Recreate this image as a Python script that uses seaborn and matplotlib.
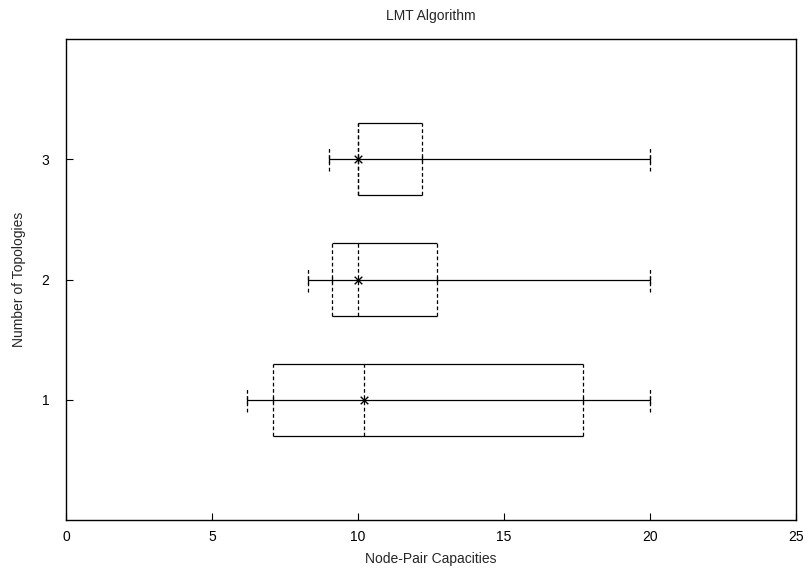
import matplotlib
matplotlib.use('Agg')
import matplotlib.pyplot as plt
import seaborn as sns
import pandas as pd

sns.set_style('white')
plt.rcParams['font.family'] = ['Liberation Sans', 'DejaVu Sans']

# summary values (one entry per topology count)
topology = [1, 2, 3]
whisker_lo = [6.2, 8.3, 9.0]
box_lo = [7.1, 9.1, 10.0]
median = [10.2, 10.0, 10.0]
box_hi = [17.7, 12.7, 12.2]
whisker_hi = [20.0, 20.0, 20.0]

df = pd.DataFrame({'topology': topology, 'wlo': whisker_lo, 'blo': box_lo,
                   'med': median, 'bhi': box_hi, 'whi': whisker_hi})

half_box = 0.3
half_cap = 0.1
lw = 0.9
dash = (0, (3, 2))

fig = plt.figure(figsize=(8.09, 5.73), dpi=100)
ax = fig.add_axes([66/809, 53/573, 730/809, 481/573])

y = df['topology']
# whisker line through the whole range
ax.hlines(y, df['wlo'], df['whi'], color='black', lw=lw)
# box top and bottom edges
ax.hlines(y + half_box, df['blo'], df['bhi'], color='black', lw=lw)
ax.hlines(y - half_box, df['blo'], df['bhi'], color='black', lw=lw)
# box ends and median, dashed
for col in ['blo', 'bhi', 'med']:
    ax.vlines(df[col], y - half_box, y + half_box, color='black', lw=lw, linestyles=dash)
# whisker caps
for col in ['wlo', 'whi']:
    ax.vlines(df[col], y - half_cap, y + half_cap, color='black', lw=lw, linestyles=dash)
    ax.plot(df[col], y, ls='none', marker='|', ms=6, mew=lw, color='black')
for col in ['blo', 'bhi']:
    ax.plot(df[col], y, ls='none', marker='|', ms=5, mew=lw, color='black')

sns.scatterplot(data=df, x='med', y='topology', marker='x', color='black',
                s=30, linewidth=1, ax=ax, zorder=5)

ax.set_xlim(0, 25)
ax.set_ylim(0, 4)
ax.set_xticks([0, 5, 10, 15, 20, 25])
ax.set_yticks([1, 2, 3])
ax.tick_params(direction='in', length=5, width=0.8, labelsize=10,
               bottom=True, left=True, colors='black')
ax.tick_params(axis='x', pad=7)
ax.tick_params(axis='y', pad=12)
for s in ax.spines.values():
    s.set_color('black')
    s.set_linewidth(1.0)

ax.set_xlabel('Node-Pair Capacities', fontsize=10, labelpad=6)
ax.set_ylabel('Number of Topologies', fontsize=10, labelpad=11)
ax.set_title('LMT Algorithm', fontsize=10, pad=14)

fig.savefig('out.png', dpi=100)
